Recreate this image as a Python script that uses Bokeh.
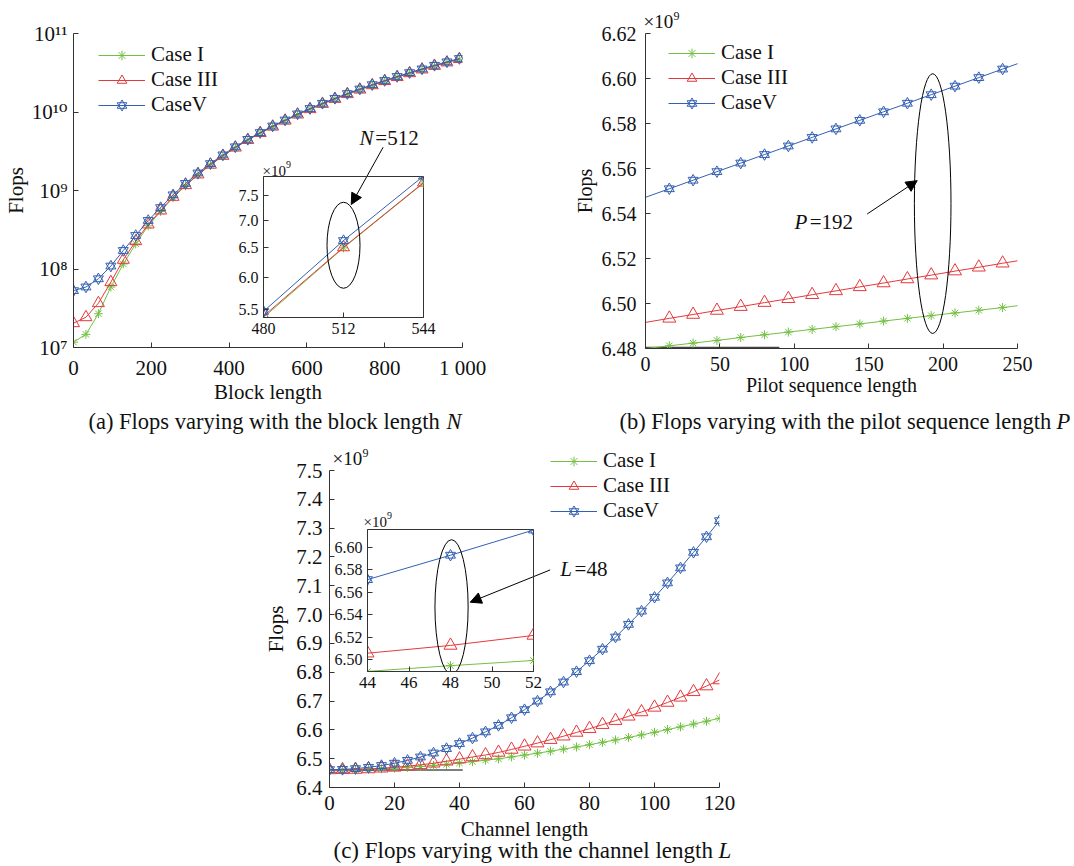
from bokeh.plotting import figure
from bokeh.models import (Legend, LegendItem, FixedTicker, PrintfTickFormatter,
                          Arrow, NormalHead, Range1d)
from bokeh.core.properties import value
from bokeh.embed import file_html
from bokeh.resources import INLINE

FONT = "Liberation Serif"
FONT_SUP = "'Liberation Serif', 'DejaVu Serif'"
GREEN = "#72c043"
RED = "#e4393c"
BLUE = "#3360b2"
AXC = "#333333"

# ---------------- data (a): block length N ----------------
block_N = [0, 32, 64, 96, 128, 160, 192, 224, 256, 288, 320, 352, 384, 416, 448, 480,
           512, 544, 576, 608, 640, 672, 704, 736, 768, 800, 832, 864, 896, 928, 960, 992]
a_case1 = [1.17e7, 1.47e7, 2.69e7, 5.9e7, 1.16e8, 2.09e8, 3.55e8, 5.4e8, 8.1e8, 1.15e9,
           1.58e9, 2.11e9, 2.74e9, 3.5e9, 4.38e9, 5.38e9, 6.50e9, 7.75e9, 9.27e9, 1.085e10,
           1.266e10, 1.465e10, 1.685e10, 1.925e10, 2.187e10, 2.471e10, 2.78e10, 3.113e10,
           3.472e10, 3.857e10, 4.27e10, 4.712e10]
a_case3 = [2.04e7, 2.43e7, 3.67e7, 6.8e7, 1.31e8, 2.26e8, 3.69e8, 5.56e8, 8.3e8, 1.17e9,
           1.6e9, 2.13e9, 2.76e9, 3.52e9, 4.4e9, 5.40e9, 6.51e9, 7.76e9, 9.28e9, 1.087e10,
           1.268e10, 1.468e10, 1.688e10, 1.929e10, 2.191e10, 2.476e10, 2.786e10, 3.119e10,
           3.479e10, 3.865e10, 4.279e10, 4.721e10]
a_case5 = [5.3e7, 5.9e7, 7.5e7, 1.09e8, 1.72e8, 2.67e8, 4.15e8, 6.05e8, 8.8e8, 1.23e9,
           1.67e9, 2.2e9, 2.84e9, 3.6e9, 4.48e9, 5.47e9, 6.63e9, 7.9e9, 9.45e9, 1.106e10,
           1.290e10, 1.493e10, 1.717e10, 1.962e10, 2.229e10, 2.519e10, 2.834e10, 3.173e10,
           3.539e10, 3.932e10, 4.353e10, 4.803e10]
a_xticks = [0, 200, 400, 600, 800, 1000]
a_xlabels = ["0", "200", "400", "600", "800", "1 000"]
a_yticks = [1e7, 1e8, 1e9, 1e10, 1e11]
a_ylabels = ["10\u2077", "10\u2078", "10\u2079", "10\u00b9\u2070", "10\u00b9\u00b9"]
ai_xticks = [480, 512, 544]
ai_yticks = [5.5, 6.0, 6.5, 7.0, 7.5]

# ---------------- data (b): pilot sequence length P (x1e9) ----------------
pilot_P = [0, 16, 32, 48, 64, 80, 96, 112, 128, 144, 160, 176, 192, 208, 224, 240, 256]
b_case1 = [6.4800, 6.4812, 6.4824, 6.4836, 6.4849, 6.4861, 6.4873, 6.4885, 6.4897,
           6.4909, 6.4922, 6.4934, 6.4946, 6.4958, 6.4970, 6.4982, 6.4995]
b_case3 = [6.4916, 6.4934, 6.4951, 6.4969, 6.4986, 6.5004, 6.5021, 6.5039, 6.5056,
           6.5074, 6.5091, 6.5109, 6.5126, 6.5144, 6.5161, 6.5179, 6.5196]
b_case5 = [6.5472, 6.5510, 6.5548, 6.5586, 6.5624, 6.5662, 6.5700, 6.5738, 6.5776,
           6.5814, 6.5852, 6.5890, 6.5928, 6.5966, 6.6004, 6.6042, 6.6080]
b_base_P = [0, 90]
b_base_y = [6.4802, 6.4802]
b_xticks = [0, 50, 100, 150, 200, 250]
b_yticks = [6.48, 6.50, 6.52, 6.54, 6.56, 6.58, 6.60, 6.62]

# ---------------- data (c): channel length L (x1e9) ----------------
channel_L = [0, 4, 8, 12, 16, 20, 24, 28, 32, 36, 40, 44, 48, 52, 56, 60, 64, 68, 72, 76,
             80, 84, 88, 92, 96, 100, 104, 108, 112, 116, 120]
c_case1 = [6.4610, 6.4613, 6.4620, 6.4633, 6.4650, 6.4672, 6.4699, 6.4730, 6.4765, 6.4805,
           6.4849, 6.4897, 6.4948, 6.4994, 6.5062, 6.5125, 6.5191, 6.5260, 6.5332, 6.5407,
           6.5485, 6.5567, 6.5650, 6.5736, 6.5825, 6.5916, 6.6009, 6.6104, 6.6202, 6.6301,
           6.6401]
c_case3 = [6.4610, 6.4614, 6.4624, 6.4642, 6.4668, 6.4700, 6.4740, 6.4786, 6.4840, 6.4910,
           6.4985, 6.5059, 6.5128, 6.5217, 6.5320, 6.5430, 6.5540, 6.5660, 6.5780, 6.5910,
           6.6040, 6.6180, 6.6320, 6.6470, 6.6620, 6.6780, 6.6950, 6.7130, 6.7320, 6.7520,
           6.7730]
c_case5 = [6.4620, 6.4629, 6.4655, 6.4700, 6.4762, 6.4843, 6.4942, 6.5059, 6.5196, 6.5351,
           6.5525, 6.5714, 6.5931, 6.6155, 6.6420, 6.6700, 6.7000, 6.7320, 6.7660, 6.8020,
           6.8400, 6.8800, 6.9220, 6.9660, 7.0120, 7.0600, 7.1100, 7.1620, 7.2160, 7.2700,
           7.3260]
c_base_L = [0, 41]
c_base_y = [6.4608, 6.4608]
c_xticks = [0, 20, 40, 60, 80, 100, 120]
c_yticks = [6.4, 6.5, 6.6, 6.7, 6.8, 6.9, 7.0, 7.1, 7.2, 7.3, 7.4, 7.5]
ci_xticks = [44, 46, 48, 50, 52]
ci_yticks = [6.50, 6.52, 6.54, 6.56, 6.58, 6.60]

series_names = ["Case I", "Case III", "CaseV"]


def make_fig(fx, fy, fw, fh, bl, bt, br, bb, **kw):
    """fx, fy: wanted page position of the plot frame's top-left corner."""
    p = figure(width=bl + fw + br, height=bt + fh + bb, output_backend="svg",
               toolbar_location=None, min_border_left=bl, min_border_top=bt,
               min_border_right=br, min_border_bottom=bb, **kw)
    p.styles = {"position": "absolute", "left": f"{fx - bl}px", "top": f"{fy - bt}px"}
    p.background_fill_color = None
    p.border_fill_color = None
    p.outline_line_color = None
    p.xgrid.grid_line_color = None
    p.ygrid.grid_line_color = None
    return p


def style_axes(p, fs, xstand, ystand, xlab=None, ylab=None, xlabst=2, ylabst=2):
    for ax in p.axis:
        ax.axis_line_color = AXC
        ax.major_tick_line_color = AXC
        ax.major_tick_in = 5
        ax.major_tick_out = 0
        ax.minor_tick_in = 0
        ax.minor_tick_out = 0
        ax.major_label_text_font = FONT
        ax.major_label_text_font_size = fs
        ax.major_label_text_color = "#111111"
        ax.axis_label_text_font = FONT
        ax.axis_label_text_font_size = fs
        ax.axis_label_text_font_style = "normal"
        ax.axis_label_text_color = "#111111"
    p.xaxis.major_label_standoff = xstand
    p.yaxis.major_label_standoff = ystand
    if xlab:
        p.xaxis.axis_label = xlab
        p.xaxis.axis_label_standoff = xlabst
    if ylab:
        p.yaxis.axis_label = ylab
        p.yaxis.axis_label_standoff = ylabst


def draw_series(p, x, y, mx, my, color, kind, size):
    rl = p.line(x, y, line_color=color, line_width=1)
    rs = []
    if kind == "ast":
        rs.append(p.scatter(mx, my, marker="asterisk", size=size, line_color=color, line_width=1))
    elif kind == "tri":
        rs.append(p.scatter(mx, my, marker="triangle", size=size, line_color=color,
                            fill_color=None, line_width=1))
    else:
        rs.append(p.scatter(mx, my, marker="triangle", size=size, line_color=color,
                            fill_color=None, line_width=1))
        rs.append(p.scatter(mx, my, marker="inverted_triangle", size=size, line_color=color,
                            fill_color=None, line_width=1))
    return [rl] + rs


def add_legend(p, groups, loc):
    items = [LegendItem(label=n, renderers=g) for n, g in zip(series_names, groups)]
    lg = Legend(items=items, location=loc, margin=0, padding=0, spacing=0,
                glyph_width=47, glyph_height=24, label_height=24, label_standoff=6,
                label_text_font=FONT, label_text_font_size="21px",
                label_text_color="#111111", border_line_color=None,
                background_fill_alpha=0)
    p.add_layout(lg)


def ital_label(p, x1, x2, y, name, rest, fs="21px"):
    p.text(x=[x1], y=[y], text=[name], text_font=value(FONT), text_font_style="italic",
           text_font_size=fs, text_align="right", text_baseline="middle", text_color="#111111")
    p.text(x=[x2], y=[y], text=[rest], text_font=value(FONT), text_font_size=fs,
           text_align="left", text_baseline="middle", text_color="#111111")


def arrow(p, xs, ys, xe, ye):
    p.add_layout(Arrow(end=NormalHead(size=11, fill_color="black", line_color="black"),
                       x_start=xs, y_start=ys, x_end=xe, y_end=ye,
                       line_color="black", line_width=1))


# ================= panel (a) =================
pa = make_fig(73, 33, 389, 314, 95, 33, 50, 75, x_range=Range1d(0, 1000),
              y_range=Range1d(1e7, 1e11), y_axis_type="log")
style_axes(pa, "21px", 8, 6, "Block length", "Flops", -3, 1)
pa.yaxis.major_label_text_font = FONT_SUP
pa.xaxis.ticker = FixedTicker(ticks=a_xticks)
pa.xaxis.major_label_overrides = dict(zip(a_xticks, a_xlabels))
pa.yaxis.ticker = FixedTicker(ticks=a_yticks)
pa.yaxis.major_label_overrides = dict(zip(a_yticks, a_ylabels))
ga1 = draw_series(pa, block_N, a_case1, block_N, a_case1, GREEN, "ast", 9)
ga3 = draw_series(pa, block_N, a_case3, block_N, a_case3, RED, "tri", 12)
ga5 = draw_series(pa, block_N, a_case5, block_N, a_case5, BLUE, "hex", 10)
add_legend(pa, [ga1, ga3, ga5], (25, 230))
arrow(pa, 796, 3.56e9, 714, 6.63e8)
ital_label(pa, 771.5, 776, 4.6e9, "N", "=512")

# inset (a)
pai = make_fig(263, 176, 160, 141, 55, 20, 15, 35, x_range=Range1d(480, 544),
               y_range=Range1d(5.38, 7.89), y_axis_type="log")
pai.outline_line_color = AXC
style_axes(pai, "16px", 5, 5)
pai.xaxis.ticker = FixedTicker(ticks=ai_xticks)
pai.yaxis.ticker = FixedTicker(ticks=ai_yticks)
pai.yaxis.formatter = PrintfTickFormatter(format="%.1f")
sl = slice(15, 18)
ai_1 = [v / 1e9 for v in a_case1[sl]]
ai_3 = [v / 1e9 for v in a_case3[sl]]
ai_5 = [v / 1e9 for v in a_case5[sl]]
draw_series(pai, block_N[sl], ai_1, block_N[sl], ai_1, GREEN, "ast", 9)
draw_series(pai, block_N[sl], ai_3, block_N[sl], ai_3, RED, "tri", 12)
draw_series(pai, block_N[sl], ai_5, block_N[sl], ai_5, BLUE, "hex", 10)
pai.ellipse(x=[512], y=[6.546], width=33, height=86, width_units="screen",
            height_units="screen", fill_color=None, line_color="black", line_width=1)

# ================= panel (b) =================
pb = make_fig(645, 33, 372, 315, 95, 33, 50, 75, x_range=Range1d(0, 250),
              y_range=Range1d(6.48, 6.62))
style_axes(pb, "20px", 8, 9, "Pilot sequence length", "Flops", 0, 3)
pb.xaxis.ticker = FixedTicker(ticks=b_xticks)
pb.yaxis.ticker = FixedTicker(ticks=b_yticks)
pb.yaxis.formatter = PrintfTickFormatter(format="%.2f")
pb.line(b_base_P, b_base_y, line_color="#444444", line_width=2.5)
mk = slice(1, 16)
gb1 = draw_series(pb, pilot_P, b_case1, pilot_P[mk], b_case1[mk], GREEN, "ast", 9)
gb3 = draw_series(pb, pilot_P, b_case3, pilot_P[mk], b_case3[mk], RED, "tri", 13)
gb5 = draw_series(pb, pilot_P, b_case5, pilot_P[mk], b_case5[mk], BLUE, "hex", 10)
add_legend(pb, [gb1, gb3, gb5], (23, 233))
pb.ellipse(x=[193], y=[6.5444], width=[24.6], height=[0.1154], fill_color=None,
           line_color="black", line_width=1)
arrow(pb, 149.0, 6.5398, 182.6, 6.5546)
ital_label(pb, 108.7, 110.4, 6.5361, "P", "=192")

# ================= panel (c) =================
pc = make_fig(329, 470, 390, 317, 90, 40, 40, 62, x_range=Range1d(0, 120),
              y_range=Range1d(6.4, 7.5))
style_axes(pc, "21px", 8, 7, "Channel length", "Flops", 4, 5)
pc.xaxis.ticker = FixedTicker(ticks=c_xticks)
pc.yaxis.ticker = FixedTicker(ticks=c_yticks)
pc.yaxis.formatter = PrintfTickFormatter(format="%.1f")
pc.line(c_base_L, c_base_y, line_color="#555555", line_width=1.5)
draw_series(pc, channel_L, c_case1, channel_L, c_case1, GREEN, "ast", 9)
draw_series(pc, channel_L, c_case3, channel_L, c_case3, RED, "tri", 13)
draw_series(pc, channel_L, c_case5, channel_L, c_case5, BLUE, "hex", 10)
arrow(pc, 67.9, 7.155, 43.3, 7.043)
ital_label(pc, 74.6, 75.4, 7.159, "L", "=48")

# inset (c)
pci = make_fig(367, 529, 166, 142, 60, 20, 15, 35, x_range=Range1d(44, 52),
               y_range=Range1d(6.4896, 6.616))
pci.outline_line_color = AXC
style_axes(pci, "16px", 5, 5)
pci.xaxis.major_label_text_font_size = "17px"
pci.xaxis.ticker = FixedTicker(ticks=ci_xticks)
pci.yaxis.ticker = FixedTicker(ticks=ci_yticks)
pci.yaxis.formatter = PrintfTickFormatter(format="%.2f")
cl = slice(11, 14)
draw_series(pci, channel_L[cl], c_case1[cl], channel_L[cl], c_case1[cl], GREEN, "ast", 9)
draw_series(pci, channel_L[cl], c_case3[cl], channel_L[cl], c_case3[cl], RED, "tri", 13)
draw_series(pci, channel_L[cl], c_case5[cl], channel_L[cl], c_case5[cl], BLUE, "hex", 10)
pci.ellipse(x=[48.05], y=[6.547], width=[1.6], height=[0.12], fill_color=None,
            line_color="black", line_width=1)

# ================= overlay: captions, exponent marks, legend of (c) =================
po = figure(width=1074, height=866, x_range=Range1d(0, 1074), y_range=Range1d(866, 0),
            x_axis_location=None, y_axis_location=None, min_border=0,
            output_backend="svg", toolbar_location=None)
po.styles = {"position": "absolute", "left": "0px", "top": "0px"}
po.background_fill_color = None
po.border_fill_color = None
po.outline_line_color = None
po.grid.visible = False


def otext(x, y, t, fs, style="normal", align="left"):
    po.text(x=[x], y=[y], text=[t], text_font=value(FONT), text_font_size=fs,
            text_font_style=style, text_align=align, text_baseline="middle",
            text_color="#111111")


def exp_mark(x, y, fs, sfs, w):
    otext(x, y, "\u00d710", fs)
    otext(x + w, y - 6, "9", sfs)


exp_mark(643, 21, "19px", "12px", 30)
exp_mark(332, 458, "19px", "12px", 30)
exp_mark(262, 170, "15px", "10px", 23.5)
exp_mark(363, 521, "15px", "10px", 23.5)

otext(88, 421, "(a) Flops varying with the block length", "22.5px")
otext(446, 421, "N", "22.5px", "italic")
otext(619, 421, "(b) Flops varying with the pilot sequence length", "22.5px")
otext(1056, 421, "P", "22.5px", "italic")
otext(333, 850, "(c) Flops varying with the channel length", "23px")
otext(718, 850, "L", "23px", "italic")

# legend of (c) lies partly above its frame, so it is drawn on the overlay;
# its sample glyphs sit at one point outside the visible page
off = [-100]
lg_c = [draw_series(po, off, off, off, off, GREEN, "ast", 9),
        draw_series(po, off, off, off, off, RED, "tri", 13),
        draw_series(po, off, off, off, off, BLUE, "hex", 10)]
add_legend(po, lg_c, (550, 343))

open("out.html", "w").write(file_html([pa, pai, pb, pc, pci, po], INLINE))
